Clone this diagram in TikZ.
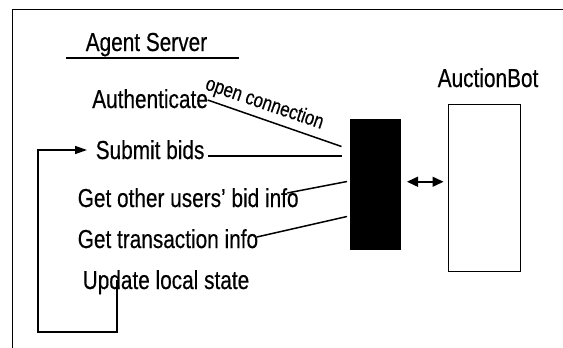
\documentclass[tikz,border=0pt]{standalone}
\usepackage{fontspec}
\setmainfont{Liberation Sans}[FakeStretch=0.8,FakeBold=0.4]
\usetikzlibrary{arrows.meta,calc}
\begin{document}
\begin{tikzpicture}[x=1pt,y=-1pt,line width=1.5pt,
  lbl/.style={inner sep=0pt,anchor=base west,font=\fontsize{26}{30}\selectfont},
  small/.style={inner sep=0pt,anchor=base west,font=\fontsize{21}{24}\selectfont},
  tip/.style={-{Triangle[length=12pt,width=8pt]}},
  dbl/.style={{Triangle[length=11pt,width=10pt]}-{Triangle[length=11pt,width=10pt]}},
  gate/.style={draw,fill=black,inner sep=0pt,anchor=north west},
  srv/.style={draw,fill=white,inner sep=0pt,anchor=north west}]
\useasboundingbox (0,0) rectangle (563,348);
% frame
\draw (12.5,348) -- (12.5,9.5) -- (563,9.5);
% texts
\node[lbl] (agent) at (85,51) {Agent Server};
\node[lbl] (abot) at (437,87) {AuctionBot};
\node[lbl] (auth) at (91.5,108) {Authenticate};
\node[lbl] (submit) at (95,159) {Submit bids};
\node[lbl] (other) at (77,207) {Get other users’ bid info};
\node[lbl] (trans) at (77,248) {Get transaction info};
\node[lbl] (update) at (82,289) {Update local state};
% boxes
\node[gate,minimum width=50pt,minimum height=130pt] (gw) at (349.5,118.5) {};
\node[srv,minimum width=72pt,minimum height=167pt] (ab) at (447.5,103.5) {};
% underline
\draw ($(agent.base west)+(-19,7)$) -- ++(173,0);
% line ends near gateway
\coordinate (g1) at ($(gw.north west)+(-8,28)$);
\coordinate (g2) at ($(gw.north west)+(-8,37.5)$);
\coordinate (g3) at ($(gw.north west)+(-2.5,63)$);
\coordinate (g4) at ($(gw.north west)+(-2.5,98)$);
\coordinate (a1) at ($(auth.base east)+(-1,-8)$);
\draw (a1) -- (g1);
\draw ($(submit.base east)+(3,-3)$) -- (g2);
\draw ($(other.base east)+(-12,-14)$) -- (g3);
\draw ($(trans.base east)+(-2,-11)$) -- (g4);
\node[small,rotate=-18.8] (oc) at ($(a1)+(-4,-11)$) {open connection};
% loop
\draw[tip] ($(update.base west)+(35,-9)$) -- ++(0,52) -| ($(submit.base west)+(-57,-9)$) -- ($(submit.base west)+(-8,-9)$);
% double arrow
\draw[dbl] ($(gw.east)+(6,-2.5)$) -- ($(ab.west)+(-4,-6)$);
\end{tikzpicture}
\end{document}
